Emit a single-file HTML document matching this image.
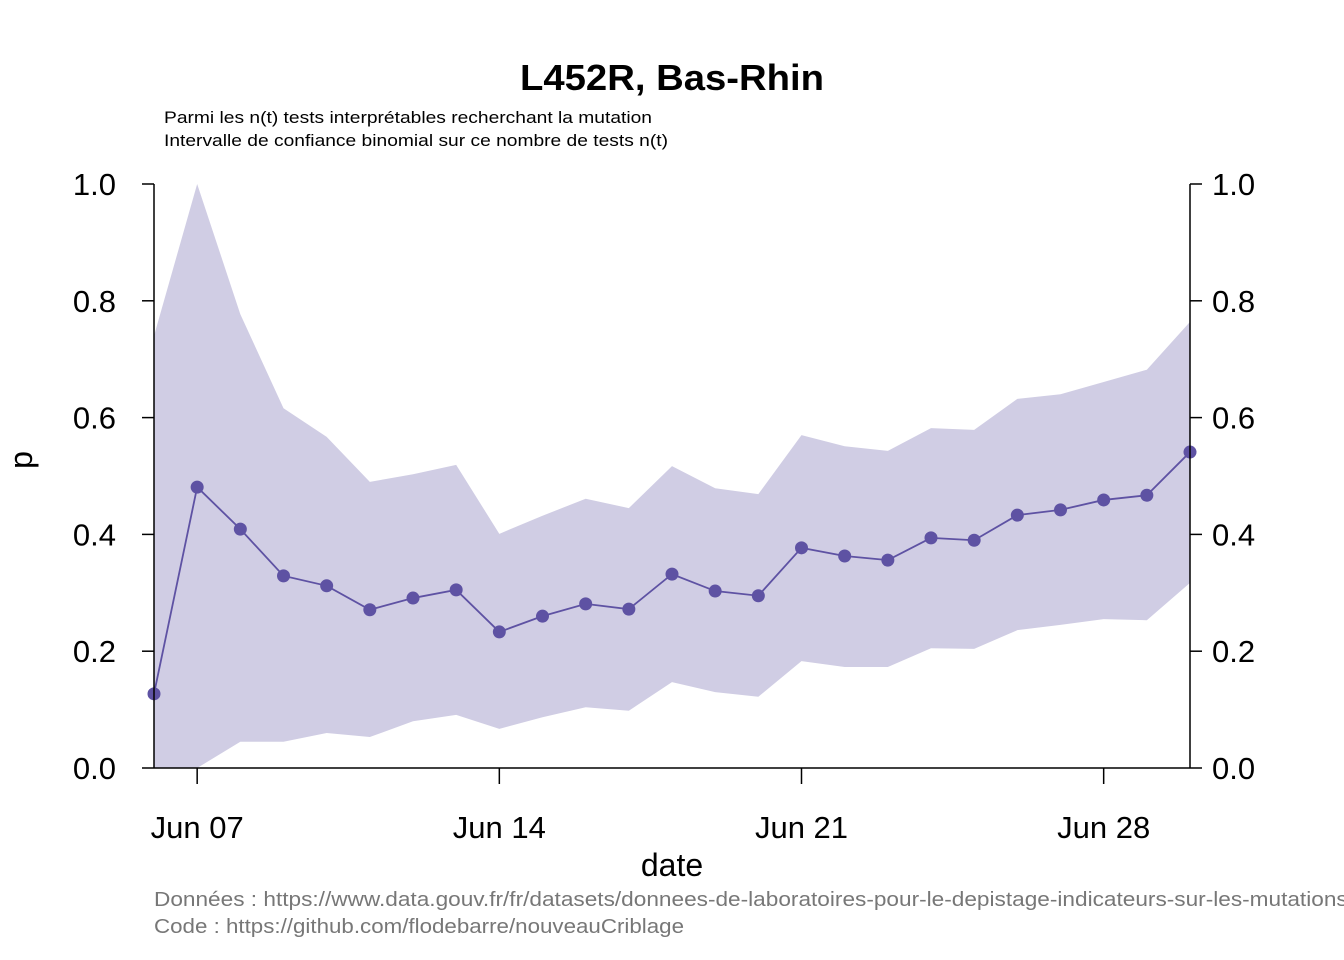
<!DOCTYPE html>
<html><head><meta charset="utf-8"><style>
html,body{margin:0;padding:0;background:#fff;}
svg{display:block;font-family:"Liberation Sans",Arial,sans-serif;}
</style></head><body>
<svg id="chart" width="1344" height="960" viewBox="0 0 1344 960">
<text x="520" y="90" font-size="36" font-weight="bold" textLength="304" lengthAdjust="spacingAndGlyphs">L452R, Bas-Rhin</text>
<text x="164" y="123" font-size="17" textLength="488" lengthAdjust="spacingAndGlyphs">Parmi les n(t) tests interprétables recherchant la mutation</text>
<text x="164" y="146" font-size="17" textLength="504" lengthAdjust="spacingAndGlyphs">Intervalle de confiance binomial sur ce nombre de tests n(t)</text>
<g id="plot"></g>
<text x="672" y="876" text-anchor="middle" font-size="32">date</text>
<text x="32" y="460" text-anchor="middle" font-size="32" transform="rotate(-90 32 460)">p</text>
<text x="154" y="906" font-size="20" fill="#777" textLength="1200" lengthAdjust="spacingAndGlyphs">Données : https://www.data.gouv.fr/fr/datasets/donnees-de-laboratoires-pour-le-depistage-indicateurs-sur-les-mutations/</text>
<text x="154" y="933" font-size="20" fill="#777" textLength="530" lengthAdjust="spacingAndGlyphs">Code : https://github.com/flodebarre/nouveauCriblage</text>
</svg>
<script>
const days = [6,7,8,9,10,11,12,13,14,15,16,17,18,19,20,21,22,23,24,25,26,27,28,29,30];
const pValues = [0.127,0.481,0.409,0.329,0.312,0.271,0.291,0.305,0.233,0.260,0.281,0.272,0.332,0.303,0.295,0.377,0.363,0.356,0.394,0.390,0.433,0.442,0.459,0.467,0.541];
const upperValues = [0.74,1.0,0.777,0.616,0.567,0.49,0.503,0.519,0.401,0.432,0.461,0.445,0.517,0.479,0.469,0.570,0.551,0.543,0.582,0.579,0.632,0.640,0.661,0.682,0.764];
const lowerValues = [0,0,0.045,0.045,0.06,0.053,0.08,0.091,0.067,0.087,0.104,0.098,0.147,0.13,0.122,0.183,0.173,0.173,0.205,0.204,0.236,0.245,0.255,0.253,0.317];
const xTickDays = [7,14,21,28];
const xTickLabels = ["Jun 07","Jun 14","Jun 21","Jun 28"];
const yTicks = [0,0.2,0.4,0.6,0.8,1.0];
const yTickLabels = ["0.0","0.2","0.4","0.6","0.8","1.0"];

const NS="http://www.w3.org/2000/svg";
const g=document.getElementById('plot');
const X0=154,X1=1190,Y0=768,Y1=184;
const d0=6,d1=30;
const xs=d=>X0+(d-d0)*(X1-X0)/(d1-d0);
const ys=v=>Y0-v*(Y0-Y1);
function mk(t,a){const e=document.createElementNS(NS,t);for(const k in a)e.setAttribute(k,a[k]);g.appendChild(e);return e;}

let pts=days.map((d,i)=>xs(d)+','+ys(upperValues[i]));
for(let i=days.length-1;i>=0;i--)pts.push(xs(days[i])+','+ys(lowerValues[i]));
const band=mk('polygon',{points:pts.join(' '),fill:'#d0cde4'});



const line=mk('polyline',{points:days.map((d,i)=>xs(d)+','+ys(pValues[i])).join(' '),fill:'none',stroke:'#5e52a3','stroke-width':1.8});


days.forEach((d,i)=>{
  const c=mk('circle',{cx:xs(d),cy:ys(pValues[i]),r:6.5,fill:'#5e52a3'});
  
  
});

const la=mk('line',{x1:X0,y1:Y1,x2:X0,y2:Y0,stroke:'#000','stroke-width':1.5});


const ra=mk('line',{x1:X1,y1:Y1,x2:X1,y2:Y0,stroke:'#000','stroke-width':1.5});


const xa=mk('line',{x1:X0,y1:Y0,x2:X1,y2:Y0,stroke:'#000','stroke-width':1.5});



yTicks.forEach((v,i)=>{
  mk('line',{x1:X0-12,y1:ys(v),x2:X0,y2:ys(v),stroke:'#000','stroke-width':1.5});
  mk('line',{x1:X1,y1:ys(v),x2:X1+12,y2:ys(v),stroke:'#000','stroke-width':1.5});
  const t=mk('text',{x:116,y:ys(v)+11,'text-anchor':'end','font-size':31});
  t.textContent=yTickLabels[i];
  
  
  const t2=mk('text',{x:1212,y:ys(v)+11,'text-anchor':'start','font-size':31});
  t2.textContent=yTickLabels[i];
  
  
});
xTickDays.forEach((d,i)=>{
  mk('line',{x1:xs(d),y1:Y0,x2:xs(d),y2:Y0+16,stroke:'#000','stroke-width':1.5});
  const t=mk('text',{x:xs(d),y:838,'text-anchor':'middle','font-size':31});
  t.textContent=xTickLabels[i];
  
  
});
</script>
</body></html>
